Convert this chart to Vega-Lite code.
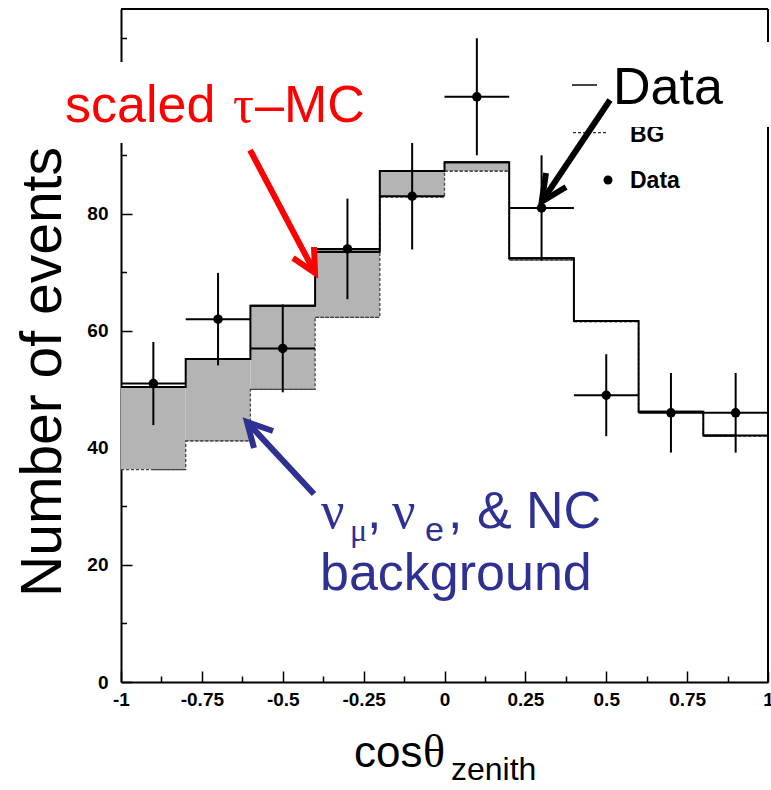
{
  "$schema": "https://vega.github.io/schema/vega-lite/v6.json",
  "width": 647,
  "height": 673,
  "autosize": {"type": "none"},
  "padding": {"left": 121, "top": 9, "right": 3, "bottom": 108},
  "background": "white",
  "config": {"view": {"stroke": null}},
  "datasets": {
    "bins": [
      {"lo": -1, "hi": -0.8, "c": -0.9, "total": 50.4, "bg": 36.3, "data": 51, "dlo": 43.9, "dhi": 58.1},
      {"lo": -0.8, "hi": -0.6, "c": -0.7, "total": 55.2, "bg": 41.2, "data": 62, "dlo": 54.1, "dhi": 69.9},
      {"lo": -0.6, "hi": -0.4, "c": -0.5, "total": 64.3, "bg": 50.0, "data": 57, "dlo": 49.5, "dhi": 64.5},
      {"lo": -0.4, "hi": -0.2, "c": -0.3, "total": 73.5, "bg": 62.3, "data": 74, "dlo": 65.4, "dhi": 82.6},
      {"lo": -0.2, "hi": 0, "c": -0.1, "total": 87.3, "bg": 82.9, "data": 83, "dlo": 73.9, "dhi": 92.1},
      {"lo": 0, "hi": 0.2, "c": 0.1, "total": 88.8, "bg": 87.3, "data": 100, "dlo": 90, "dhi": 110},
      {"lo": 0.2, "hi": 0.4, "c": 0.3, "total": 72.4, "bg": 72.1, "data": 81, "dlo": 72, "dhi": 90},
      {"lo": 0.4, "hi": 0.6, "c": 0.5, "total": 61.7, "bg": 61.6, "data": 49, "dlo": 42, "dhi": 56},
      {"lo": 0.6, "hi": 0.8, "c": 0.7, "total": 46.2, "bg": 46.1, "data": 46, "dlo": 39.2, "dhi": 52.8},
      {"lo": 0.8, "hi": 1, "c": 0.9, "total": 42.1, "bg": 42.0, "data": 46, "dlo": 39.2, "dhi": 52.8}
    ],
    "frame": [
      {"x1": -1, "x2": 1, "y1": 115, "y2": 115},
      {"x1": 1, "x2": 1, "y1": 0, "y2": 115}
    ],
    "legend": [
      {"item": "total", "x1": 0.3941, "x2": 0.4714, "y": 102.01},
      {"item": "bg", "x1": 0.3972, "x2": 0.5054, "y": 93.86},
      {"item": "data", "x1": 0.5054, "x2": 0.5054, "y": 85.78}
    ],
    "boxes": [
      {"x1": -1.204, "x2": -0.215, "y1": 92.1, "y2": 105.94},
      {"x1": 0.49, "x2": 1.03, "y1": 94.84, "y2": 109.36}
    ],
    "arrows": [
      {"who": "tau", "s": "tau_shaft", "o": 0, "x": -0.601, "y": 90.9},
      {"who": "tau", "s": "tau_shaft", "o": 1, "x": -0.4003, "y": 69.9},
      {"who": "tau", "s": "tau_head", "o": 0, "x": -0.4683, "y": 72.45},
      {"who": "tau", "s": "tau_head", "o": 1, "x": -0.4003, "y": 69.9},
      {"who": "tau", "s": "tau_head", "o": 2, "x": -0.4034, "y": 74.33},
      {"who": "data", "s": "data_shaft", "o": 0, "x": 0.5116, "y": 99.45},
      {"who": "data", "s": "data_shaft", "o": 1, "x": 0.3005, "y": 82.07},
      {"who": "data", "s": "data_head", "o": 0, "x": 0.3138, "y": 86.98},
      {"who": "data", "s": "data_head", "o": 1, "x": 0.3005, "y": 82.07},
      {"who": "data", "s": "data_head", "o": 2, "x": 0.3756, "y": 84.58},
      {"who": "bgn", "s": "bgn_shaft", "o": 0, "x": -0.4034, "y": 32.12},
      {"who": "bgn", "s": "bgn_shaft", "o": 1, "x": -0.6105, "y": 44.43},
      {"who": "bgn", "s": "bgn_head", "o": 0, "x": -0.5889, "y": 39.98},
      {"who": "bgn", "s": "bgn_head", "o": 1, "x": -0.6105, "y": 44.43},
      {"who": "bgn", "s": "bgn_head", "o": 2, "x": -0.5301, "y": 42.89}
    ],
    "ann": [
      {"t": "scaled", "x": -1.1731, "y": 95.74, "g": "sans52", "who": "tau"},
      {"t": "τ", "x": -0.6538, "y": 95.74, "g": "serif52", "who": "tau"},
      {"t": "–MC", "x": -0.5858, "y": 95.74, "g": "sans52", "who": "tau"},
      {"t": "Data", "x": 0.5209, "y": 98.77, "g": "sans52", "who": "data"},
      {"t": "ν", "x": -0.3818, "y": 26.31, "g": "serif52", "who": "bgn"},
      {"t": "μ", "x": -0.2921, "y": 24.09, "g": "serif32", "who": "bgn"},
      {"t": ",", "x": -0.2396, "y": 26.31, "g": "sans52", "who": "bgn"},
      {"t": "ν", "x": -0.1623, "y": 26.31, "g": "serif52", "who": "bgn"},
      {"t": "e", "x": -0.0603, "y": 24.09, "g": "sans34", "who": "bgn"},
      {"t": ", & NC", "x": 0.0108, "y": 26.31, "g": "sans52", "who": "bgn"},
      {"t": "background", "x": -0.3849, "y": 15.72, "g": "sans52", "who": "bgn"},
      {"t": "cos", "x": -0.2798, "y": -14.53, "g": "sans44", "who": "axis"},
      {"t": "θ", "x": -0.0665, "y": -14.53, "g": "serif46", "who": "axis"},
      {"t": "zenith", "x": 0.0201, "y": -16.75, "g": "sans32", "who": "axis"},
      {"t": "BG", "x": 0.5734, "y": 92.32, "g": "bold23", "who": "axis"},
      {"t": "Data", "x": 0.5734, "y": 84.36, "g": "bold23", "who": "axis"},
      {"t": "Number of events", "x": -1.1855, "y": 52.97, "g": "ytitle", "who": "axis"}
    ]
  },
  "layer": [
    {
      "data": {"name": "bins"},
      "mark": {"type": "rect", "fill": "#b4b4b4", "stroke": null},
      "encoding": {
        "x": {
          "field": "lo", "type": "quantitative", "title": null,
          "scale": {"domain": [-1, 1], "nice": false, "zero": false},
          "axis": {
            "values": [-1, -0.875, -0.75, -0.625, -0.5, -0.375, -0.25, -0.125, 0, 0.125, 0.25, 0.375, 0.5, 0.625, 0.75, 0.875, 1],
            "labelExpr": "datum.value*4 === round(datum.value*4) ? '' + datum.value : ''",
            "tickSize": {"condition": {"test": "datum.value*4 === round(datum.value*4)", "value": -11}, "value": -6},
            "labelPadding": 19,
            "labelFlush": false, "labelOverlap": false, "labelBound": false,
            "grid": false, "domainColor": "#000", "domainWidth": 2,
            "tickColor": "#000", "tickWidth": 1.5,
            "labelFont": "Liberation Sans", "labelFontWeight": "bold", "labelFontSize": 19, "labelColor": "#000"
          }
        },
        "x2": {"field": "hi"},
        "y": {
          "field": "bg", "type": "quantitative", "title": null,
          "scale": {"domain": [0, 115], "nice": false, "zero": false},
          "axis": {
            "values": [0, 5, 10, 15, 20, 25, 30, 35, 40, 45, 50, 55, 60, 65, 70, 75, 80, 85, 90, 95, 100, 105, 110],
            "labelExpr": "datum.value % 20 === 0 ? '' + datum.value : ''",
            "tickSize": {"condition": {"test": "datum.value % 20 === 0", "value": -11}, "value": -5.5},
            "labelPadding": 24,
            "labelOverlap": false, "labelBound": false, "labelFlush": false,
            "grid": false, "domainColor": "#000", "domainWidth": 2,
            "tickColor": "#000", "tickWidth": 1.5,
            "labelFont": "Liberation Sans", "labelFontWeight": "bold", "labelFontSize": 19, "labelColor": "#000"
          }
        },
        "y2": {"field": "total"}
      }
    },
    {
      "data": {"name": "frame"},
      "mark": {"type": "rule", "color": "#000", "strokeWidth": 2},
      "encoding": {
        "x": {"field": "x1", "type": "quantitative", "title": null},
        "x2": {"field": "x2"},
        "y": {"field": "y1", "type": "quantitative", "title": null},
        "y2": {"field": "y2"}
      }
    },
    {
      "data": {"name": "bins"},
      "mark": {"type": "rule", "color": "#444", "strokeWidth": 1.3, "strokeDash": [3, 2]},
      "encoding": {
        "x": {"field": "lo", "type": "quantitative", "title": null},
        "x2": {"field": "hi"},
        "y": {"field": "bg", "type": "quantitative", "title": null}
      }
    },
    {
      "data": {"name": "bins"},
      "mark": {"type": "line", "interpolate": "step", "color": "#444", "strokeWidth": 1.3, "strokeDash": [3, 2]},
      "encoding": {
        "x": {"field": "c", "type": "quantitative", "title": null},
        "y": {"field": "bg", "type": "quantitative", "title": null}
      }
    },
    {
      "data": {"name": "bins"},
      "mark": {"type": "rule", "color": "#000", "strokeWidth": 2},
      "encoding": {
        "x": {"field": "lo", "type": "quantitative", "title": null},
        "x2": {"field": "hi"},
        "y": {"field": "total", "type": "quantitative", "title": null}
      }
    },
    {
      "data": {"name": "bins"},
      "mark": {"type": "line", "interpolate": "step", "color": "#000", "strokeWidth": 2},
      "encoding": {
        "x": {"field": "c", "type": "quantitative", "title": null},
        "y": {"field": "total", "type": "quantitative", "title": null}
      }
    },
    {
      "data": {"name": "bins"},
      "mark": {"type": "rule", "color": "#000", "strokeWidth": 2},
      "encoding": {
        "x": {"field": "lo", "type": "quantitative", "title": null},
        "x2": {"field": "hi"},
        "y": {"field": "data", "type": "quantitative", "title": null}
      }
    },
    {
      "data": {"name": "bins"},
      "mark": {"type": "rule", "color": "#000", "strokeWidth": 2},
      "encoding": {
        "x": {"field": "c", "type": "quantitative", "title": null},
        "y": {"field": "dlo", "type": "quantitative", "title": null},
        "y2": {"field": "dhi"}
      }
    },
    {
      "data": {"name": "bins"},
      "mark": {"type": "point", "filled": true, "color": "#000", "opacity": 1, "size": 90},
      "encoding": {
        "x": {"field": "c", "type": "quantitative", "title": null},
        "y": {"field": "data", "type": "quantitative", "title": null}
      }
    },
    {
      "data": {"name": "legend"},
      "transform": [{"filter": "datum.item === 'total'"}],
      "mark": {"type": "rule", "color": "#444", "strokeWidth": 2},
      "encoding": {
        "x": {"field": "x1", "type": "quantitative", "title": null},
        "x2": {"field": "x2"},
        "y": {"field": "y", "type": "quantitative", "title": null}
      }
    },
    {
      "data": {"name": "legend"},
      "transform": [{"filter": "datum.item === 'bg'"}],
      "mark": {"type": "rule", "color": "#333", "strokeWidth": 1.3, "strokeDash": [3, 2]},
      "encoding": {
        "x": {"field": "x1", "type": "quantitative", "title": null},
        "x2": {"field": "x2"},
        "y": {"field": "y", "type": "quantitative", "title": null}
      }
    },
    {
      "data": {"name": "legend"},
      "transform": [{"filter": "datum.item === 'data'"}],
      "mark": {"type": "point", "filled": true, "color": "#000", "opacity": 1, "size": 80},
      "encoding": {
        "x": {"field": "x1", "type": "quantitative", "title": null},
        "y": {"field": "y", "type": "quantitative", "title": null}
      }
    },
    {
      "data": {"name": "ann"},
      "transform": [{"filter": "datum.g === 'bold23'"}],
      "mark": {"type": "text", "font": "Liberation Sans", "fontWeight": "bold", "fontSize": 23, "align": "left", "baseline": "alphabetic", "color": "#000"},
      "encoding": {
        "x": {"field": "x", "type": "quantitative", "title": null},
        "y": {"field": "y", "type": "quantitative", "title": null},
        "text": {"field": "t"}
      }
    },
    {
      "data": {"name": "boxes"},
      "mark": {"type": "rect", "fill": "white", "stroke": null},
      "encoding": {
        "x": {"field": "x1", "type": "quantitative", "title": null},
        "x2": {"field": "x2"},
        "y": {"field": "y1", "type": "quantitative", "title": null},
        "y2": {"field": "y2"}
      }
    },
    {
      "data": {"name": "arrows"},
      "mark": {"type": "line", "strokeWidth": 6, "strokeJoin": "miter", "strokeCap": "butt"},
      "encoding": {
        "x": {"field": "x", "type": "quantitative", "title": null},
        "y": {"field": "y", "type": "quantitative", "title": null},
        "detail": {"field": "s"},
        "order": {"field": "o"},
        "color": {"field": "who", "type": "nominal", "legend": null,
          "scale": {"domain": ["tau", "bgn", "data", "axis"], "range": ["#ff0000", "#2e3192", "#000000", "#000000"]}}
      }
    },
    {
      "data": {"name": "ann"},
      "transform": [{"filter": "datum.g === 'sans52'"}],
      "mark": {"type": "text", "font": "Liberation Sans", "fontSize": 52, "align": "left", "baseline": "alphabetic"},
      "encoding": {
        "x": {"field": "x", "type": "quantitative", "title": null},
        "y": {"field": "y", "type": "quantitative", "title": null},
        "text": {"field": "t"},
        "color": {"field": "who", "type": "nominal", "legend": null}
      }
    },
    {
      "data": {"name": "ann"},
      "transform": [{"filter": "datum.g === 'serif52'"}],
      "mark": {"type": "text", "font": "Liberation Serif", "fontSize": 52, "align": "left", "baseline": "alphabetic"},
      "encoding": {
        "x": {"field": "x", "type": "quantitative", "title": null},
        "y": {"field": "y", "type": "quantitative", "title": null},
        "text": {"field": "t"},
        "color": {"field": "who", "type": "nominal", "legend": null}
      }
    },
    {
      "data": {"name": "ann"},
      "transform": [{"filter": "datum.g === 'serif32'"}],
      "mark": {"type": "text", "font": "Liberation Serif", "fontSize": 32, "align": "left", "baseline": "alphabetic"},
      "encoding": {
        "x": {"field": "x", "type": "quantitative", "title": null},
        "y": {"field": "y", "type": "quantitative", "title": null},
        "text": {"field": "t"},
        "color": {"field": "who", "type": "nominal", "legend": null}
      }
    },
    {
      "data": {"name": "ann"},
      "transform": [{"filter": "datum.g === 'sans34'"}],
      "mark": {"type": "text", "font": "Liberation Sans", "fontSize": 34, "align": "left", "baseline": "alphabetic"},
      "encoding": {
        "x": {"field": "x", "type": "quantitative", "title": null},
        "y": {"field": "y", "type": "quantitative", "title": null},
        "text": {"field": "t"},
        "color": {"field": "who", "type": "nominal", "legend": null}
      }
    },
    {
      "data": {"name": "ann"},
      "transform": [{"filter": "datum.g === 'sans44'"}],
      "mark": {"type": "text", "font": "Liberation Sans", "fontSize": 44, "align": "left", "baseline": "alphabetic", "color": "#000"},
      "encoding": {
        "x": {"field": "x", "type": "quantitative", "title": null},
        "y": {"field": "y", "type": "quantitative", "title": null},
        "text": {"field": "t"}
      }
    },
    {
      "data": {"name": "ann"},
      "transform": [{"filter": "datum.g === 'serif46'"}],
      "mark": {"type": "text", "font": "Liberation Serif", "fontSize": 46, "align": "left", "baseline": "alphabetic", "color": "#000"},
      "encoding": {
        "x": {"field": "x", "type": "quantitative", "title": null},
        "y": {"field": "y", "type": "quantitative", "title": null},
        "text": {"field": "t"}
      }
    },
    {
      "data": {"name": "ann"},
      "transform": [{"filter": "datum.g === 'sans32'"}],
      "mark": {"type": "text", "font": "Liberation Sans", "fontSize": 32, "align": "left", "baseline": "alphabetic", "color": "#000"},
      "encoding": {
        "x": {"field": "x", "type": "quantitative", "title": null},
        "y": {"field": "y", "type": "quantitative", "title": null},
        "text": {"field": "t"}
      }
    },
    {
      "data": {"name": "ann"},
      "transform": [{"filter": "datum.g === 'ytitle'"}],
      "mark": {"type": "text", "font": "Liberation Sans", "fontSize": 57, "align": "center", "baseline": "alphabetic", "angle": 270, "color": "#000"},
      "encoding": {
        "x": {"field": "x", "type": "quantitative", "title": null},
        "y": {"field": "y", "type": "quantitative", "title": null},
        "text": {"field": "t"}
      }
    }
  ]
}
